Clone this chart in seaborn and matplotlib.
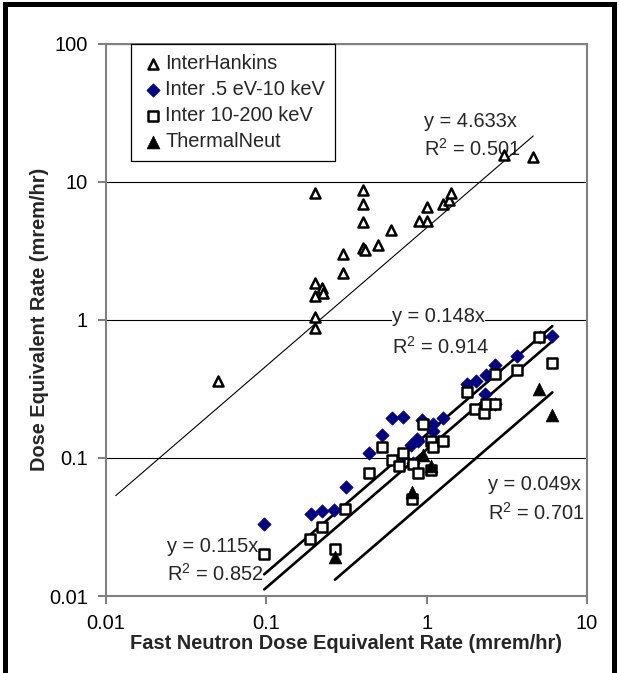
import numpy as np
import pandas as pd
import seaborn as sns
import matplotlib
matplotlib.use('Agg')
import matplotlib.pyplot as plt
from matplotlib.patches import Rectangle
from matplotlib.ticker import FixedLocator, FuncFormatter, NullLocator

# Data (fast neutron rate vs dose equivalent rate, mrem/hr)
hankins_x = [0.05, 0.2, 0.2, 0.223, 0.227, 0.2, 0.2, 0.2, 0.3, 0.3, 0.4, 0.4, 0.4,
             0.4, 0.41, 0.5, 0.6, 0.9, 1.0, 1.01, 1.27, 1.38, 1.41, 3.03, 4.62]
hankins_y = [0.36, 8.25, 1.86, 1.71, 1.57, 1.49, 1.05, 0.87, 2.97, 2.17, 8.67, 6.94, 5.1,
             3.3, 3.2, 3.47, 4.44, 5.19, 6.56, 5.19, 6.94, 7.35, 8.3, 15.6, 15.0]

epi_x = [0.097, 0.189, 0.222, 0.265, 0.314, 0.435, 0.53, 0.605, 0.715, 0.67, 0.8, 0.82,
         0.866, 0.887, 0.94, 1.09, 1.1, 1.26, 1.79, 2.03, 2.34, 2.67, 2.31, 2.67, 3.64,
         5.1, 6.08]
epi_y = [0.033, 0.039, 0.041, 0.042, 0.062, 0.108, 0.147, 0.195, 0.197, 0.098, 0.124, 0.092,
         0.136, 0.132, 0.187, 0.176, 0.156, 0.195, 0.344, 0.36, 0.396, 0.47, 0.29, 0.246, 0.547,
         0.75, 0.757]

inter_x = [0.097, 0.187, 0.222, 0.267, 0.31, 0.435, 0.53, 0.605, 0.67, 0.715, 0.818, 0.887,
           0.806, 0.944, 1.07, 1.09, 1.07, 1.26, 1.78, 2.0, 2.29, 2.34, 2.67, 2.67, 3.64,
           5.04, 6.02]
inter_y = [0.020, 0.026, 0.0316, 0.022, 0.043, 0.078, 0.12, 0.097, 0.087, 0.108, 0.09, 0.078,
           0.05, 0.176, 0.132, 0.12, 0.082, 0.132, 0.30, 0.224, 0.212, 0.244, 0.246, 0.403, 0.43,
           0.75, 0.484]

thermal_x = [0.268, 0.806, 0.953, 1.07, 5.04, 6.08]
thermal_y = [0.0192, 0.057, 0.105, 0.087, 0.313, 0.206]

# trendlines y = a*x (Excel, through origin)
hankins_slope, hankins_r2 = 4.633, 0.501
epi_slope, epi_r2 = 0.148, 0.914
inter_slope, inter_r2 = 0.115, 0.852
thermal_slope, thermal_r2 = 0.049, 0.701
hankins_fit_x = [0.0115, 4.62]   # Excel forecast extends this one backwards

x_ticks = [0.01, 0.1, 1, 10]
y_ticks = [0.01, 0.1, 1, 10, 100]

sns.set_theme(style='white')
plt.rcParams['font.family'] = ['Liberation Sans', 'DejaVu Sans']
plt.rcParams['mathtext.fontset'] = 'custom'
plt.rcParams['mathtext.rm'] = 'Liberation Sans'
FS = 14.4

fig = plt.figure(figsize=(6.19, 6.73), dpi=100)
W, H = 619, 673
ax = fig.add_axes([106 / W, 1 - 596 / H, (587 - 106) / W, (596 - 43.5) / H])

edge = 1.8
sns.scatterplot(x=hankins_x, y=hankins_y, ax=ax, marker='^', s=52, facecolor='white',
                edgecolor='black', linewidth=edge, label='InterHankins', zorder=3)
sns.scatterplot(x=epi_x, y=epi_y, ax=ax, marker='D', s=46, color='#000080',
                edgecolor='#000080', linewidth=0.5, label='Inter .5 eV-10 keV', zorder=3)
sns.scatterplot(x=inter_x, y=inter_y, ax=ax, marker='s', s=44, facecolor='white',
                edgecolor='black', linewidth=edge, label='Inter 10-200 keV', zorder=3)
sns.scatterplot(x=thermal_x, y=thermal_y, ax=ax, marker='^', s=85, color='black',
                edgecolor='black', linewidth=0.5, label='ThermalNeut', zorder=3)

# trendlines
fits = pd.DataFrame({
    'x': hankins_fit_x
    + [min(epi_x), max(epi_x)] + [min(inter_x), max(inter_x)]
    + [min(thermal_x), max(thermal_x)],
    'slope': [hankins_slope] * 2 + [epi_slope] * 2 + [inter_slope] * 2 + [thermal_slope] * 2,
    'series': ['h'] * 2 + ['e'] * 2 + ['i'] * 2 + ['t'] * 2,
})
fits['y'] = fits['x'] * fits['slope']
for name, lw in [('h', 0.8), ('e', 1.9), ('i', 1.9), ('t', 1.9)]:
    d = fits[fits['series'] == name]
    sns.lineplot(data=d, x='x', y='y', ax=ax, color='black', linewidth=lw,
                 legend=False, zorder=2.5, estimator=None, sort=False)

ax.set_xscale('log')
ax.set_yscale('log')
ax.set_xlim(0.01, 10)
ax.set_ylim(0.01, 100)
fmt = FuncFormatter(lambda v, p: '{:g}'.format(v))
ax.xaxis.set_major_locator(FixedLocator(x_ticks))
ax.yaxis.set_major_locator(FixedLocator(y_ticks))
ax.xaxis.set_minor_locator(NullLocator())
ax.yaxis.set_minor_locator(NullLocator())
ax.xaxis.set_major_formatter(fmt)
ax.yaxis.set_major_formatter(fmt)
ax.tick_params(axis='both', which='major', direction='out', length=6, width=1.5,
               color='#808080', labelsize=FS, labelcolor='black', pad=7)
ax.tick_params(axis='x', bottom=True)
ax.tick_params(axis='y', left=True)
ax.yaxis.grid(True, color='black', linewidth=0.8)
ax.xaxis.grid(False)
ax.set_axisbelow(True)
for sp in ax.spines.values():
    sp.set_color('#808080')
    sp.set_linewidth(1.5)

ax.set_xlabel('Fast Neutron Dose Equivalent Rate (mrem/hr)', fontsize=FS,
              fontweight='bold', labelpad=1)
ax.set_ylabel('Dose Equivalent Rate (mrem/hr)', fontsize=FS, fontweight='bold')
ax.yaxis.set_label_coords(-(106 - 49) / 481, 0.5)

# trendline labels
labels = [
    (0.661, 0.858, 0.809, hankins_slope, hankins_r2),
    (0.594, 0.505, 0.451, epi_slope, epi_r2),
    (0.126, 0.089, 0.040, inter_slope, inter_r2),
    (0.795, 0.201, 0.150, thermal_slope, thermal_r2),
]
for tx, ty1, ty2, a, r2 in labels:
    box = dict(facecolor='white', edgecolor='none', pad=0)
    ax.text(tx, ty1, 'y = {:.3f}x'.format(a), transform=ax.transAxes, fontsize=FS,
            ha='left', va='center', bbox=box, zorder=1.5)
    ax.text(tx, ty2, 'R$^2$ = {:.3f}'.format(r2), transform=ax.transAxes, fontsize=FS,
            ha='left', va='center', bbox=box, zorder=1.5)

leg = ax.legend(loc='upper left', bbox_to_anchor=(131 / W, 1 - 44 / H),
                bbox_transform=fig.transFigure, fontsize=FS, frameon=True, fancybox=False,
                framealpha=1, edgecolor='black', borderpad=0.5, labelspacing=0.35,
                handlelength=1.2, handletextpad=0.0, borderaxespad=0)
leg.get_frame().set_linewidth(0.9)

# outer border of the chart
fig.patches.append(Rectangle((4.5 / W, -0.05), (613.5 - 4.5) / W, 1.05 - 4.5 / H,
                             transform=fig.transFigure, fill=False, edgecolor='black',
                             linewidth=3.6))

fig.savefig('out.png', dpi=100, facecolor='white')
